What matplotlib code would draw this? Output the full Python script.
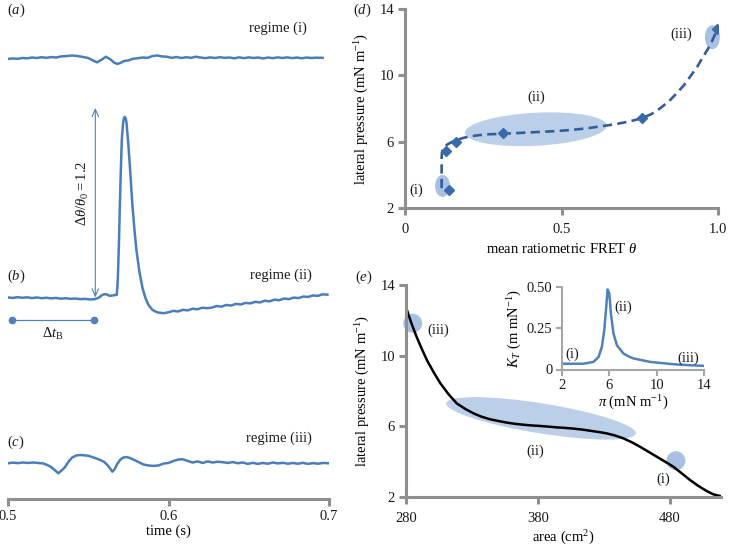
import numpy as np
import matplotlib
matplotlib.use("Agg")
import matplotlib.pyplot as plt
from matplotlib.patches import Ellipse
from matplotlib.transforms import ScaledTranslation

plt.rcParams["font.family"] = ["Liberation Serif", "DejaVu Serif"]
plt.rcParams["mathtext.fontset"] = "custom"
plt.rcParams["mathtext.rm"] = "Liberation Serif"
plt.rcParams["mathtext.it"] = "Liberation Serif:italic"
plt.rcParams["mathtext.bf"] = "Liberation Serif:bold"
plt.rcParams["font.size"] = 10.5
plt.rcParams["text.color"] = "#1a1a1a"
plt.rcParams["xtick.labelcolor"] = "#1a1a1a"
plt.rcParams["ytick.labelcolor"] = "#1a1a1a"

# ---- (a) regime (i) trace: time (s), delta theta / theta0
t_a = [0.500, 0.503, 0.506, 0.509, 0.512, 0.515, 0.518, 0.521, 0.524, 0.527,
       0.530, 0.533, 0.536, 0.540, 0.543, 0.546, 0.550, 0.553, 0.5555, 0.558,
       0.561, 0.564, 0.566, 0.568, 0.570, 0.5725, 0.575, 0.5775, 0.581, 0.584,
       0.587, 0.590, 0.593, 0.596, 0.599, 0.602, 0.605, 0.608, 0.611, 0.614,
       0.617, 0.620, 0.623, 0.626, 0.629, 0.632, 0.635, 0.638, 0.641, 0.644,
       0.647, 0.650, 0.653, 0.656, 0.659, 0.662, 0.665, 0.668, 0.671, 0.674,
       0.677, 0.680, 0.683, 0.686, 0.689, 0.692, 0.696]
v_a = [-0.006, -0.003, -0.005, 0.000, -0.002, 0.003, 0.000, 0.005, 0.001, 0.006,
       0.003, 0.010, 0.012, 0.016, 0.013, 0.008, 0.000, -0.016, -0.028, -0.013,
       0.008, -0.010, -0.029, -0.038, -0.032, -0.019, -0.016, -0.006, -0.001, 0.003,
       0.001, 0.012, 0.016, 0.010, 0.008, 0.001, 0.006, 0.000, 0.005, 0.001,
       0.008, 0.003, -0.001, 0.004, 0.000, 0.005, 0.001, 0.003, -0.002, 0.004,
       -0.001, 0.004, 0.000, 0.003, -0.003, 0.003, -0.001, 0.004, 0.000, 0.004,
       -0.001, 0.003, -0.002, 0.003, 0.000, 0.002, 0.001]

# ---- (b) regime (ii) trace
t_b = [0.500, 0.503, 0.506, 0.509, 0.512, 0.515, 0.518, 0.521, 0.524, 0.527,
       0.530, 0.533, 0.536, 0.539, 0.542, 0.545, 0.548, 0.551, 0.554, 0.5565,
       0.559, 0.561, 0.5635, 0.566, 0.5672, 0.5678, 0.5684, 0.5691, 0.5697, 0.5703,
       0.5709, 0.5716, 0.5722, 0.5728, 0.5733, 0.5738, 0.5750, 0.5763, 0.5775, 0.5788,
       0.5800, 0.5819, 0.5838, 0.5856, 0.5875, 0.5900, 0.5931, 0.5969, 0.600, 0.603,
       0.606, 0.609, 0.612, 0.615, 0.618, 0.621, 0.624, 0.627, 0.630, 0.633,
       0.636, 0.639, 0.642, 0.645, 0.648, 0.651, 0.654, 0.657, 0.660, 0.663,
       0.666, 0.669, 0.672, 0.675, 0.678, 0.681, 0.684, 0.687, 0.690, 0.693,
       0.696, 0.699]
v_b = [0.000, -0.003, 0.002, -0.002, 0.001, -0.004, 0.000, -0.005, -0.002, -0.006,
       -0.003, -0.008, -0.005, -0.009, -0.007, -0.011, -0.009, -0.013, -0.011, -0.002,
       0.018, 0.021, 0.010, 0.014, 0.017, 0.016, 0.112, 0.337, 0.593, 0.817,
       1.010, 1.106, 1.151, 1.157, 1.147, 1.125, 0.978, 0.785, 0.593, 0.433,
       0.304, 0.163, 0.061, -0.003, -0.048, -0.080, -0.096, -0.101, -0.095, -0.086,
       -0.090, -0.079, -0.083, -0.072, -0.076, -0.066, -0.069, -0.065, -0.055, -0.059,
       -0.048, -0.052, -0.041, -0.045, -0.035, -0.038, -0.028, -0.032, -0.021, -0.025,
       -0.014, -0.018, -0.007, -0.011, -0.001, -0.004, 0.006, 0.003, 0.013, 0.010,
       0.020, 0.018]

# ---- (c) regime (iii) trace
t_c = [0.5000, 0.5031, 0.5063, 0.5094, 0.5125, 0.5156, 0.5188, 0.5219, 0.5244, 0.5269,
       0.5294, 0.5313, 0.5331, 0.5356, 0.5375, 0.5400, 0.5425, 0.5450, 0.5475, 0.5500,
       0.5525, 0.5550, 0.5575, 0.5600, 0.5619, 0.5638, 0.5650, 0.5663, 0.5681, 0.5700,
       0.5719, 0.5738, 0.5756, 0.5781, 0.5813, 0.5844, 0.5875, 0.5906, 0.5938, 0.5969,
       0.6000, 0.6031, 0.6063, 0.6088, 0.6119, 0.6150, 0.6181, 0.6213, 0.6244, 0.6275,
       0.6306, 0.6338, 0.6369, 0.6400, 0.6431, 0.6463, 0.6494, 0.6525, 0.6556, 0.6588,
       0.6619, 0.6650, 0.6681, 0.6713, 0.6744, 0.6775, 0.6806, 0.6838, 0.6869, 0.6900,
       0.6931, 0.6963, 0.7000]
v_c = [-0.002, 0.002, -0.001, 0.003, 0.000, 0.003, 0.000, -0.003, -0.013, -0.026,
       -0.048, -0.066, -0.051, -0.026, 0.006, 0.035, 0.048, 0.051, 0.049, 0.046,
       0.038, 0.029, 0.019, 0.006, -0.013, -0.038, -0.056, -0.042, -0.006, 0.022,
       0.035, 0.038, 0.033, 0.022, 0.006, -0.010, -0.016, -0.019, -0.016, -0.004,
       0.000, 0.013, 0.022, 0.024, 0.013, 0.003, 0.010, 0.000, 0.010, 0.003,
       0.008, 0.005, 0.000, 0.006, -0.002, 0.003, -0.006, 0.001, -0.006, 0.000,
       -0.005, 0.003, -0.003, 0.001, -0.005, 0.000, -0.005, 0.001, -0.006, -0.001,
       -0.005, 0.000, -0.002]

peak_change = 1.215          # delta theta / theta0 = 1.2 arrow
t_arrow = 0.5544
dt_b = [0.5025, 0.5538]      # delta t_B interval

# ---- (d) lateral pressure vs mean FRET
fret_pts = [0.14, 0.13, 0.163, 0.312, 0.756, 0.996]
press_pts = [3.1, 5.45, 6.0, 6.5, 7.41, 12.78]
fret_curve = [0.117, 0.117, 0.117, 0.118, 0.121, 0.128, 0.137, 0.150, 0.163, 0.185,
              0.208, 0.235, 0.261, 0.314, 0.370, 0.421, 0.475, 0.527, 0.580, 0.634,
              0.668, 0.698, 0.728, 0.756, 0.787, 0.815, 0.843, 0.868, 0.891, 0.911,
              0.933, 0.953, 0.968, 0.980, 0.998]
press_curve = [3.2, 4.3, 5.0, 5.35, 5.55, 5.72, 5.85, 5.98, 6.08, 6.22,
               6.32, 6.39, 6.44, 6.48, 6.53, 6.58, 6.63, 6.70, 6.80, 6.95,
               7.04, 7.15, 7.27, 7.41, 7.66, 8.01, 8.43, 8.92, 9.40, 9.92,
               10.50, 11.13, 11.60, 12.03, 12.78]

# ---- (e) isotherm
area = [280, 284, 288, 292, 296, 301, 306, 312, 318.4, 325, 331, 337, 343.6, 350,
        356.3, 362.6, 368.9, 375, 381.5, 388, 394.2, 400.5, 406.7, 413, 419.4, 425.7,
        432, 438.3, 444.6, 451, 457.3, 463.6, 469.9, 476.2, 482.5, 488.8, 495.1,
        501.5, 507.8, 513, 517.9]
press_iso = [12.74, 11.85, 11.07, 10.37, 9.72, 9.05, 8.43, 7.83, 7.29, 6.97, 6.73,
             6.54, 6.39, 6.29, 6.20, 6.13, 6.08, 6.04, 6.01, 5.97, 5.93, 5.90, 5.86,
             5.81, 5.74, 5.67, 5.59, 5.47, 5.31, 5.09, 4.83, 4.55, 4.27, 3.99, 3.70,
             3.33, 2.95, 2.61, 2.32, 2.13, 2.04]

# ---- (e) inset compressibility
pi_vals = [2.0, 3.8, 4.2, 4.66, 5.09, 5.37, 5.57, 5.74, 5.85, 6.0, 6.13, 6.35, 6.64,
           7.19, 7.6, 8.04, 9.45, 11.4, 12.5, 14.0]
k_vals = [0.035, 0.035, 0.040, 0.046, 0.076, 0.137, 0.238, 0.38, 0.485, 0.46, 0.34,
          0.218, 0.147, 0.097, 0.080, 0.067, 0.046, 0.032, 0.027, 0.022]

trace_c = "#4a7ebb"
arrow_c = "#4f81bd"
gray = "#8f8f8f"
blob_big = "#bccfe8"
blob_small = "#a9c1e1"

fig = plt.figure(figsize=(7.3, 5.46), dpi=100)


def px_axes(left, top, right, bottom):
    return fig.add_axes([left / 730, 1 - bottom / 546, (right - left) / 730, (bottom - top) / 546])


def style(ax, lw=2.2, color=gray, tlen=5):
    for s in ["top", "right"]:
        ax.spines[s].set_visible(False)
    for s in ["left", "bottom"]:
        ax.spines[s].set_color(color)
        ax.spines[s].set_linewidth(lw)
    ax.tick_params(length=tlen, width=lw, color=color, pad=3)
    ax.patch.set_alpha(0)


def blob(ax, x, y, w_px, h_px, color, angle=0):
    tr = fig.dpi_scale_trans + ScaledTranslation(x, y, ax.transData)
    ax.add_patch(Ellipse((0, 0), w_px / 100, h_px / 100, angle=angle, transform=tr,
                         facecolor=color, edgecolor="none", zorder=1, clip_on=False))


# ---------- left panel (a)-(c)
off_a, off_b, off_c = 2.827, 1.292, 0.231
axL = px_axes(8, 5, 329, 499)
axL.plot(t_a, np.array(v_a) + off_a, color=trace_c, lw=1.8)
axL.plot(t_b, np.array(v_b) + off_b, color=trace_c, lw=1.8)
axL.plot(t_c, np.array(v_c) + off_c, color=trace_c, lw=1.8)
axL.set_xlim(0.5, 0.7)
axL.set_ylim(0, 494 / 156)
style(axL)
axL.spines["left"].set_visible(False)
axL.set_yticks([])
axL.set_xticks([0.5, 0.6, 0.7])
axL.set_xticklabels(["0.5", "0.6", "0.7"])
axL.set_xlabel("time (s)", labelpad=1)

axL.annotate("", xy=(t_arrow, off_b + peak_change), xytext=(t_arrow, off_b),
             arrowprops=dict(arrowstyle="<->,head_length=0.5,head_width=0.22",
                             color=arrow_c, lw=0.8, shrinkA=0, shrinkB=0))
axL.text(0.5469, 1.962, r"$\mathit{\Delta}\theta/\theta_0 = 1.2$", rotation=90,
         ha="center", va="center")
axL.plot(dt_b, [1.147, 1.147], color=arrow_c, lw=0.9, marker="o", ms=4.5)
axL.text(np.mean(dt_b), 1.06, r"$\mathit{\Delta}t_\mathrm{B}$", ha="center", va="center")

axL.text(0.668, 3.019, "regime (i)", ha="center", va="center")
axL.text(0.670, 1.436, "regime (ii)", ha="center", va="center")
axL.text(0.669, 0.391, "regime (iii)", ha="center", va="center")
axL.text(0.4995, 3.135, "($a$)", ha="left", va="center")
axL.text(0.4995, 1.429, "($b$)", ha="left", va="center")
axL.text(0.4995, 0.365, "($c$)", ha="left", va="center")

# ---------- (d)
axD = px_axes(405, 9, 718, 208)
style(axD)
axD.tick_params(axis="x", pad=6)
axD.set_xlim(0, 1)
axD.set_ylim(2, 14)
blob(axD, 0.12, 3.33, 15, 22, blob_small)
blob(axD, 0.418, 6.75, 142, 33, blob_big, angle=3)
blob(axD, 0.982, 12.3, 15, 24, blob_small)
axD.plot(fret_curve, press_curve, color="#325d99", lw=1.9, dashes=(3.5, 2), zorder=2)
axD.plot(fret_pts, press_pts, linestyle="none", marker="D", ms=5, color="#3b6aa9", zorder=3)
axD.set_xticks([0, 0.5, 1.0])
axD.set_xticklabels(["0", "0.5", "1.0"])
axD.set_yticks([2, 6, 10, 14])
axD.set_xlabel(r"mean ratiometric FRET $\theta$", labelpad=4)
axD.set_ylabel(r"lateral pressure (mN m$^{-1}$)", labelpad=6)
axD.text(0.037, 3.05, "(i)", ha="center", va="center")
axD.text(0.418, 8.7, "(ii)", ha="center", va="center")
axD.text(0.884, 12.45, "(iii)", ha="center", va="center")
fig.text(353 / 730, 1 - 10 / 546, "($d$)", ha="left", va="center")

# ---------- (e)
axE = px_axes(406, 285, 406 + 239 * 1.32, 496.7)
style(axE)
axE.tick_params(axis="x", pad=6)
axE.set_xlim(280, 519)
axE.set_ylim(2, 14)
blob(axE, 285.1, 11.83, 19, 19, blob_small)
blob(axE, 382.3, 6.44, 192, 30, blob_big, angle=-9.1)
blob(axE, 484.5, 4.04, 19, 19, blob_small)
axE.plot(area, press_iso, color="black", lw=1.8, zorder=2)
axE.set_xticks([280, 380, 480])
axE.set_yticks([2, 6, 10, 14])
axE.set_xlabel(r"area (cm$^2$)", labelpad=3)
axE.set_ylabel(r"lateral pressure (mN m$^{-1}$)", labelpad=6)
axE.text(304.5, 11.45, "(iii)", ha="center", va="center")
axE.text(377.7, 4.59, "(ii)", ha="center", va="center")
axE.text(475, 2.99, "(i)", ha="center", va="center")
fig.text(355 / 730, 1 - 277 / 546, "($e$)", ha="left", va="center")

# inset
axI = px_axes(562, 287, 704, 369.5)
style(axI, lw=1.5, color="#a6a6a6", tlen=4)
axI.tick_params(axis="x", pad=3)
axI.plot(pi_vals, k_vals, color=arrow_c, lw=1.8)
axI.set_xlim(2, 14)
axI.set_ylim(0, 0.5)
axI.set_xticks([2, 6, 10, 14])
axI.set_yticks([0, 0.25, 0.5])
axI.set_yticklabels(["0", "0.25", "0.50"])
axI.set_xlabel(r"$\pi$ (mN m$^{-1}$)", labelpad=1)
axI.set_ylabel(r"$K_T$ (m mN$^{-1}$)", labelpad=2)
axI.text(2.84, 0.093, "(i)", ha="center", va="center")
axI.text(7.19, 0.38, "(ii)", ha="center", va="center")
axI.text(12.68, 0.067, "(iii)", ha="center", va="center")

fig.savefig("out.png", dpi=100)
